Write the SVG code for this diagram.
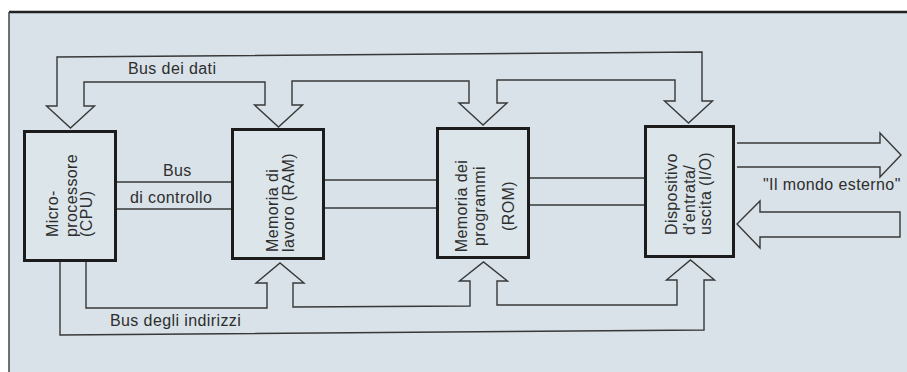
<svg xmlns="http://www.w3.org/2000/svg" width="907" height="372" viewBox="0 0 907 372">
<style>
.bg{fill:#d8e2e8}
.box{fill:#dbe5ea;stroke:#1c1c1c;stroke-width:3}
.bus{fill:none;stroke:#383838;stroke-width:1.4;stroke-linejoin:miter}
.t{font-family:"Liberation Sans",Arial,sans-serif;font-size:16px;fill:#2e2e2e;letter-spacing:0.4px}
</style>
<rect x="0" y="0" width="907" height="372" fill="#ffffff"/>
<rect class="bg" x="9" y="12" width="898" height="360"/>
<line x1="9" y1="12" x2="907" y2="12" stroke="#222" stroke-width="2.5"/>
<line x1="9" y1="12" x2="9" y2="372" stroke="#444" stroke-width="1.5"/>
<g id="connectors">
<path class="bus" d="M57,106 L57,57 L702,52 L702,101 L712.5,101 L688.5,123 L664.5,101 L675,101 L675,80 L497,80 L497,103 L507,103 L483,125 L459,103 L469,103 L469,81 L292,81 L292,105 L302.5,105 L278.5,127 L254.5,105 L265,105 L265,82 L84,82 L84,106 L94.5,106 L70.5,128 L46.5,106 Z"/>
<path class="bus" d="M60,262 L60,335 L704,330 L704,280 L714.5,280 L690.5,260 L666.5,280 L677,280 L677,305 L497,305 L497,281 L507.5,281 L483.5,262 L459.5,281 L470,281 L470,306 L293,307 L293,283 L304,283 L280,263 L256,283 L267,283 L267,308 L86,308 L86,262"/>
<line class="bus" x1="117" y1="182" x2="231" y2="182"/>
<line class="bus" x1="117" y1="209" x2="231" y2="209"/>
<line class="bus" x1="325" y1="180" x2="436" y2="180"/>
<line class="bus" x1="325" y1="208" x2="436" y2="208"/>
<line class="bus" x1="530" y1="178" x2="644" y2="178"/>
<line class="bus" x1="530" y1="205" x2="644" y2="205"/>
<path class="bus" d="M737,143 L880,143 L880,133 L901,155 L880,177 L880,167 L737,167"/>
<path class="bus" d="M760,212 L900,212 L900,237 L760,237 L760,248 L737,224 L760,201 Z"/>
</g>
<g id="cpu">
<rect class="box" x="24.5" y="131.5" width="91" height="129"/>
<text class="t" transform="translate(58,237) rotate(-90)">Micro-</text>
<text class="t" transform="translate(77,237) rotate(-90)">processore</text>
<text class="t" transform="translate(92,237) rotate(-90)">(CPU)</text>
</g>
<g id="ram">
<rect class="box" x="232.5" y="129.5" width="91" height="129"/>
<text class="t" transform="translate(278,252) rotate(-90)">Memoria di</text>
<text class="t" transform="translate(294,252) rotate(-90)">lavoro (RAM)</text>
</g>
<g id="rom">
<rect class="box" x="437.5" y="128.5" width="91" height="129"/>
<text class="t" text-anchor="middle" transform="translate(467,206) rotate(-90)">Memoria dei</text>
<text class="t" text-anchor="middle" transform="translate(485,206) rotate(-90)">programmi</text>
<text class="t" text-anchor="middle" transform="translate(514,206) rotate(-90)">(ROM)</text>
</g>
<g id="io">
<rect class="box" x="645.5" y="126.5" width="88" height="130"/>
<text class="t" transform="translate(677,235) rotate(-90)">Dispositivo</text>
<text class="t" transform="translate(695,235) rotate(-90)">d'entrata/</text>
<text class="t" transform="translate(711,235) rotate(-90)">uscita (I/O)</text>
</g>
<g id="labels">
<text class="t" x="128" y="74">Bus dei dati</text>
<text class="t" x="163" y="176">Bus</text>
<text class="t" x="130" y="203">di controllo</text>
<text class="t" x="110" y="326">Bus degli indirizzi</text>
<text class="t" x="763" y="190">"Il mondo esterno"</text>
</g>
</svg>
